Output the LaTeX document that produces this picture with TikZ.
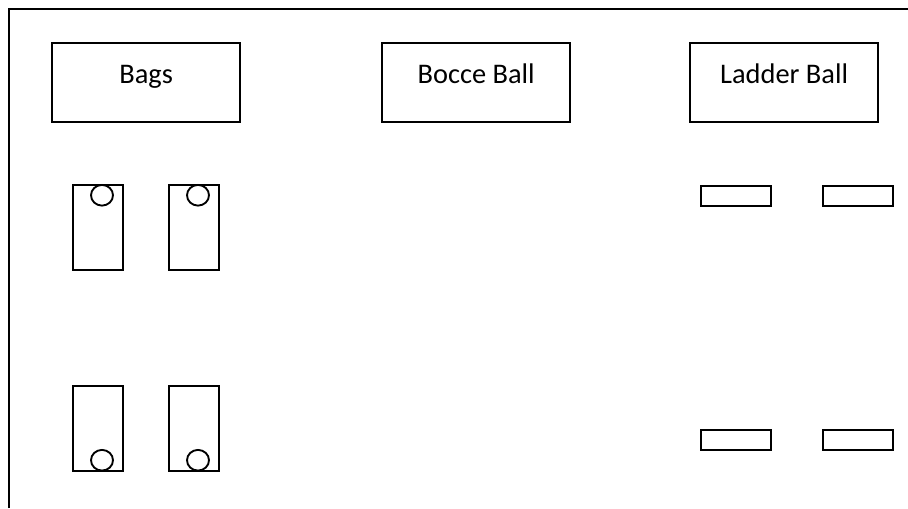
\documentclass[tikz,border=0pt]{standalone}
\usepackage{fontspec}
\setmainfont{Carlito}
\usetikzlibrary{shapes.geometric,positioning}
\tikzset{
  game_box/.style={rectangle,draw=black,line width=1.7pt,
    minimum width=141pt,inner sep=0pt,
    text height=30pt,text depth=29.25pt,
    font=\fontsize{21.3}{25}\selectfont},
  bag_board/.style={rectangle,draw=black,line width=1.5pt,
    minimum width=37.5pt,minimum height=63.75pt,inner sep=0pt},
  bag_hole/.style={ellipse,draw=black,line width=1.4pt,
    minimum width=16.5pt,minimum height=15.5pt,inner sep=0pt},
  ladder_rung/.style={rectangle,draw=black,line width=1.8pt,
    minimum width=52.5pt,minimum height=15pt,inner sep=0pt},
  frame_line/.style={draw=black,line width=1.8pt},
}

\begin{document}
\begin{tikzpicture}[x=0.75pt,y=-0.75pt]
  \useasboundingbox (0,0) rectangle (908,508);
  % outer frame: only left and top edges show
  \coordinate (fr_bl) at (9,508);
  \coordinate (fr_tl) at (9,9);
  \coordinate (fr_tr) at (908,9);
  \draw[frame_line] (fr_bl) -- (fr_tl) -- (fr_tr);

  % game labels
  \node (bags)   [game_box, anchor=north west] at (51,42)  {Bags};
  \node (bocce)  [game_box, anchor=north west] at (381,42) {Bocce Ball};
  \node (ladder) [game_box, anchor=north west] at (689,42) {Ladder Ball};

  % bag boards with their holes
  \node (bagTL) [bag_board] at (98,227.5) {};
  \node (bagTR) [bag_board, right=33pt of bagTL] {};
  \node (bagBL) [bag_board] at (98,428) {};
  \node (bagBR) [bag_board, right=33pt of bagBL] {};
  \node (holeTL) [bag_hole, anchor=north] at ([xshift=3pt]bagTL.north) {};
  \node (holeTR) [bag_hole, anchor=north] at ([xshift=3pt]bagTR.north) {};
  \node (holeBL) [bag_hole, anchor=south] at ([xshift=3pt]bagBL.south) {};
  \node (holeBR) [bag_hole, anchor=south] at ([xshift=3pt]bagBR.south) {};

  % ladder ball rungs
  \node (rungTL) [ladder_rung] at (736,196) {};
  \node (rungTR) [ladder_rung, right=37.2pt of rungTL] {};
  \node (rungBL) [ladder_rung] at (736,440) {};
  \node (rungBR) [ladder_rung, right=37.2pt of rungBL] {};
\end{tikzpicture}
\end{document}
